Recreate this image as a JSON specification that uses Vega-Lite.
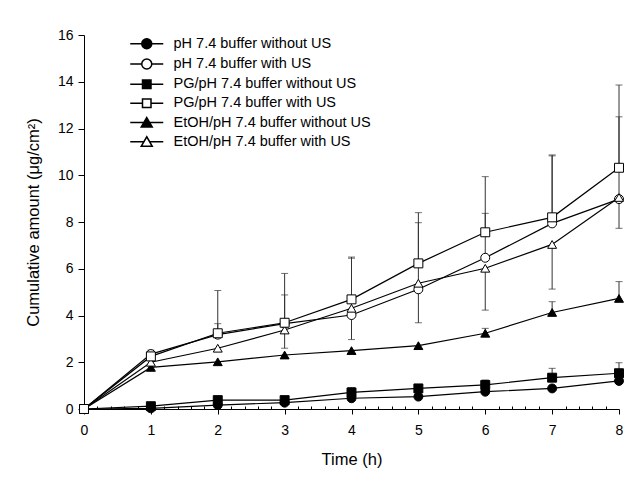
{
  "$schema": "https://vega.github.io/schema/vega-lite/v6.json",
  "autosize": "none",
  "width": 535,
  "height": 374,
  "padding": {"left": 84, "top": 35, "right": 17, "bottom": 73},
  "background": "white",
  "config": {
    "view": {"stroke": null},
    "font": "Liberation Sans",
    "axis": {
      "grid": false,
      "domainColor": "black",
      "domainWidth": 1,
      "tickColor": "black",
      "tickWidth": 1,
      "labelColor": "black",
      "titleColor": "black",
      "labelFont": "Liberation Sans",
      "titleFont": "Liberation Sans",
      "titleFontWeight": "normal",
      "labelFontSize": 14,
      "titleFontSize": 16.5
    }
  },
  "data": {
    "values": [
      {"s": "pH 7.4 buffer without US", "t": 0, "y": 0},
      {"s": "pH 7.4 buffer without US", "t": 1, "y": 0.03},
      {"s": "pH 7.4 buffer without US", "t": 2, "y": 0.17},
      {"s": "pH 7.4 buffer without US", "t": 3, "y": 0.27},
      {"s": "pH 7.4 buffer without US", "t": 4, "y": 0.46},
      {"s": "pH 7.4 buffer without US", "t": 5, "y": 0.53},
      {"s": "pH 7.4 buffer without US", "t": 6, "y": 0.74},
      {"s": "pH 7.4 buffer without US", "t": 7, "y": 0.88},
      {"s": "pH 7.4 buffer without US", "t": 8, "y": 1.2},
      {"s": "pH 7.4 buffer with US", "t": 0, "y": 0},
      {"s": "pH 7.4 buffer with US", "t": 1, "y": 2.35, "hi": 2.52},
      {"s": "pH 7.4 buffer with US", "t": 2, "y": 3.18, "hi": 3.65},
      {"s": "pH 7.4 buffer with US", "t": 3, "y": 3.65, "hi": 4.88},
      {"s": "pH 7.4 buffer with US", "t": 4, "y": 4.02, "lo": 2.97, "hi": 6.45},
      {"s": "pH 7.4 buffer with US", "t": 5, "y": 5.12, "lo": 3.69},
      {"s": "pH 7.4 buffer with US", "t": 6, "y": 6.47, "hi": 8.37},
      {"s": "pH 7.4 buffer with US", "t": 7, "y": 7.94, "hi": 10.83},
      {"s": "pH 7.4 buffer with US", "t": 8, "y": 8.98, "lo": 7.73, "hi": 12.5},
      {"s": "PG/pH 7.4 buffer without US", "t": 0, "y": 0},
      {"s": "PG/pH 7.4 buffer without US", "t": 1, "y": 0.12},
      {"s": "PG/pH 7.4 buffer without US", "t": 2, "y": 0.38},
      {"s": "PG/pH 7.4 buffer without US", "t": 3, "y": 0.38},
      {"s": "PG/pH 7.4 buffer without US", "t": 4, "y": 0.71, "hi": 0.92},
      {"s": "PG/pH 7.4 buffer without US", "t": 5, "y": 0.88},
      {"s": "PG/pH 7.4 buffer without US", "t": 6, "y": 1.03, "hi": 1.24},
      {"s": "PG/pH 7.4 buffer without US", "t": 7, "y": 1.34, "hi": 1.74},
      {"s": "PG/pH 7.4 buffer without US", "t": 8, "y": 1.53, "hi": 1.98},
      {"s": "PG/pH 7.4 buffer with US", "t": 0, "y": 0},
      {"s": "PG/pH 7.4 buffer with US", "t": 1, "y": 2.25, "hi": 2.45},
      {"s": "PG/pH 7.4 buffer with US", "t": 2, "y": 3.24, "hi": 5.07},
      {"s": "PG/pH 7.4 buffer with US", "t": 3, "y": 3.69, "hi": 5.8},
      {"s": "PG/pH 7.4 buffer with US", "t": 4, "y": 4.69, "hi": 6.5},
      {"s": "PG/pH 7.4 buffer with US", "t": 5, "y": 6.23, "hi": 8.4},
      {"s": "PG/pH 7.4 buffer with US", "t": 6, "y": 7.56, "hi": 9.94},
      {"s": "PG/pH 7.4 buffer with US", "t": 7, "y": 8.2, "hi": 10.87},
      {"s": "PG/pH 7.4 buffer with US", "t": 8, "y": 10.32, "hi": 13.86},
      {"s": "EtOH/pH 7.4 buffer without US", "t": 0, "y": 0},
      {"s": "EtOH/pH 7.4 buffer without US", "t": 1, "y": 1.78},
      {"s": "EtOH/pH 7.4 buffer without US", "t": 2, "y": 2.02},
      {"s": "EtOH/pH 7.4 buffer without US", "t": 3, "y": 2.31},
      {"s": "EtOH/pH 7.4 buffer without US", "t": 4, "y": 2.5},
      {"s": "EtOH/pH 7.4 buffer without US", "t": 5, "y": 2.71},
      {"s": "EtOH/pH 7.4 buffer without US", "t": 6, "y": 3.24, "hi": 3.45},
      {"s": "EtOH/pH 7.4 buffer without US", "t": 7, "y": 4.13, "hi": 4.59},
      {"s": "EtOH/pH 7.4 buffer without US", "t": 8, "y": 4.73, "hi": 5.45},
      {"s": "EtOH/pH 7.4 buffer with US", "t": 0, "y": 0},
      {"s": "EtOH/pH 7.4 buffer with US", "t": 1, "y": 2.0},
      {"s": "EtOH/pH 7.4 buffer with US", "t": 2, "y": 2.6},
      {"s": "EtOH/pH 7.4 buffer with US", "t": 3, "y": 3.38, "lo": 2.6},
      {"s": "EtOH/pH 7.4 buffer with US", "t": 4, "y": 4.31},
      {"s": "EtOH/pH 7.4 buffer with US", "t": 5, "y": 5.38, "hi": 7.97},
      {"s": "EtOH/pH 7.4 buffer with US", "t": 6, "y": 6.02, "lo": 4.23},
      {"s": "EtOH/pH 7.4 buffer with US", "t": 7, "y": 7.04, "lo": 5.13},
      {"s": "EtOH/pH 7.4 buffer with US", "t": 8, "y": 9.05}
    ]
  },
  "encoding": {
    "x": {
      "field": "t",
      "type": "quantitative",
      "scale": {"domain": [0, 8], "nice": false, "zero": false},
      "axis": {
        "title": "Time (h)",
        "values": [0, 0.2, 0.4, 0.6, 0.8, 1, 1.2, 1.4, 1.6, 1.8, 2, 2.2, 2.4, 2.6, 2.8, 3, 3.2, 3.4, 3.6, 3.8, 4, 4.2, 4.4, 4.6, 4.8, 5, 5.2, 5.4, 5.6, 5.8, 6, 6.2, 6.4, 6.6, 6.8, 7, 7.2, 7.4, 7.6, 7.8, 8],
        "labelExpr": "datum.value % 1 === 0 ? format(datum.value, 'd') : ''",
        "labelOverlap": false,
        "labelFlush": false,
        "tickSize": {"condition": {"test": "datum.value % 1 === 0", "value": 5}, "value": -3},
        "labelPadding": 9,
        "titlePadding": 14
      }
    },
    "y": {
      "field": "y",
      "type": "quantitative",
      "scale": {"domain": [0, 16], "nice": false},
      "axis": {
        "title": "Cumulative amount (μg/cm²)",
        "values": [0, 2, 4, 6, 8, 10, 12, 14, 16],
        "tickSize": 6,
        "labelPadding": 5,
        "titlePadding": 16
      }
    }
  },
  "layer": [
    {
      "transform": [{"filter": "datum.hi != null"}],
      "mark": {"type": "rule", "color": "#333333", "strokeWidth": 1},
      "encoding": {"y2": {"field": "hi"}}
    },
    {
      "transform": [{"filter": "datum.lo != null"}],
      "mark": {"type": "rule", "color": "#333333", "strokeWidth": 1},
      "encoding": {"y2": {"field": "lo"}}
    },
    {
      "transform": [{"filter": "datum.hi != null"}],
      "mark": {"type": "tick", "orient": "horizontal", "color": "#333333", "size": 7, "thickness": 1},
      "encoding": {"y": {"field": "hi", "type": "quantitative"}}
    },
    {
      "transform": [{"filter": "datum.lo != null"}],
      "mark": {"type": "tick", "orient": "horizontal", "color": "#333333", "size": 7, "thickness": 1},
      "encoding": {"y": {"field": "lo", "type": "quantitative"}}
    },
    {
      "mark": {"type": "line", "color": "black", "strokeWidth": 1.2},
      "encoding": {"detail": {"field": "s"}, "order": {"field": "t"}}
    },
    {
      "transform": [{"filter": "datum.s === 'pH 7.4 buffer without US'"}],
      "mark": {"type": "point", "shape": "circle", "fill": "black", "stroke": "black", "strokeWidth": 1, "size": 80, "opacity": 1}
    },
    {
      "transform": [{"filter": "datum.s === 'PG/pH 7.4 buffer without US'"}],
      "mark": {"type": "point", "shape": "square", "fill": "black", "stroke": "black", "strokeWidth": 1, "size": 80, "opacity": 1}
    },
    {
      "transform": [{"filter": "datum.s === 'EtOH/pH 7.4 buffer without US'"}],
      "mark": {"type": "point", "shape": "triangle-up", "fill": "black", "stroke": "black", "strokeWidth": 1, "size": 80, "opacity": 1}
    },
    {
      "transform": [{"filter": "datum.s === 'pH 7.4 buffer with US'"}],
      "mark": {"type": "point", "shape": "circle", "fill": "white", "stroke": "black", "strokeWidth": 1, "size": 80, "opacity": 1}
    },
    {
      "transform": [{"filter": "datum.s === 'EtOH/pH 7.4 buffer with US'"}],
      "mark": {"type": "point", "shape": "triangle-up", "fill": "white", "stroke": "black", "strokeWidth": 1, "size": 80, "opacity": 1}
    },
    {
      "transform": [{"filter": "datum.s === 'PG/pH 7.4 buffer with US'"}],
      "mark": {"type": "point", "shape": "square", "fill": "white", "stroke": "black", "strokeWidth": 1, "size": 80, "opacity": 1}
    },
    {
      "transform": [{"filter": "false"}],
      "mark": {"type": "point", "filled": true, "stroke": "black", "strokeWidth": 1, "size": 100, "opacity": 1},
      "encoding": {
        "shape": {
          "field": "s",
          "scale": {
            "domain": ["pH 7.4 buffer without US", "pH 7.4 buffer with US", "PG/pH 7.4 buffer without US", "PG/pH 7.4 buffer with US", "EtOH/pH 7.4 buffer without US", "EtOH/pH 7.4 buffer with US"],
            "range": [
              "M-3.3,0H-1M1,0H3.3M-1,0A1,1,0,1,1,1,0A1,1,0,1,1,-1,0Z",
              "M-3.3,0H-1M1,0H3.3M-1,0A1,1,0,1,1,1,0A1,1,0,1,1,-1,0Z",
              "M-3.3,0H-0.85M0.85,0H3.3M-0.85,-0.85H0.85V0.85H-0.85Z",
              "M-3.3,0H-0.85M0.85,0H3.3M-0.85,-0.85H0.85V0.85H-0.85Z",
              "M-3.3,0H-0.58M0.58,0H3.3M0,-1L1.1,0.9H-1.1Z",
              "M-3.3,0H-0.58M0.58,0H3.3M0,-1L1.1,0.9H-1.1Z"
            ]
          },
          "legend": {
            "title": null,
            "orient": "none",
            "legendX": 55.5,
            "legendY": 1.5,
            "padding": 0,
            "labelFont": "Liberation Sans",
            "labelFontSize": 14.5,
            "labelColor": "black",
            "labelLimit": 400,
            "labelOffset": 19.5,
            "symbolSize": 100,
            "rowPadding": 3.2,
            "encode": {"symbols": {"update": {"stroke": {"value": "black"}, "strokeWidth": {"value": 1}, "opacity": {"value": 1}}}}
          }
        },
        "fill": {
          "field": "s",
          "scale": {
            "domain": ["pH 7.4 buffer without US", "pH 7.4 buffer with US", "PG/pH 7.4 buffer without US", "PG/pH 7.4 buffer with US", "EtOH/pH 7.4 buffer without US", "EtOH/pH 7.4 buffer with US"],
            "range": ["black", "white", "black", "white", "black", "white"]
          },
          "legend": {
            "title": null,
            "orient": "none",
            "legendX": 55.5,
            "legendY": 1.5,
            "padding": 0,
            "labelFont": "Liberation Sans",
            "labelFontSize": 14.5,
            "labelColor": "black",
            "labelLimit": 400,
            "labelOffset": 19.5,
            "symbolSize": 100,
            "rowPadding": 3.2,
            "encode": {"symbols": {"update": {"stroke": {"value": "black"}, "strokeWidth": {"value": 1}, "opacity": {"value": 1}}}}
          }
        }
      }
    }
  ]
}
